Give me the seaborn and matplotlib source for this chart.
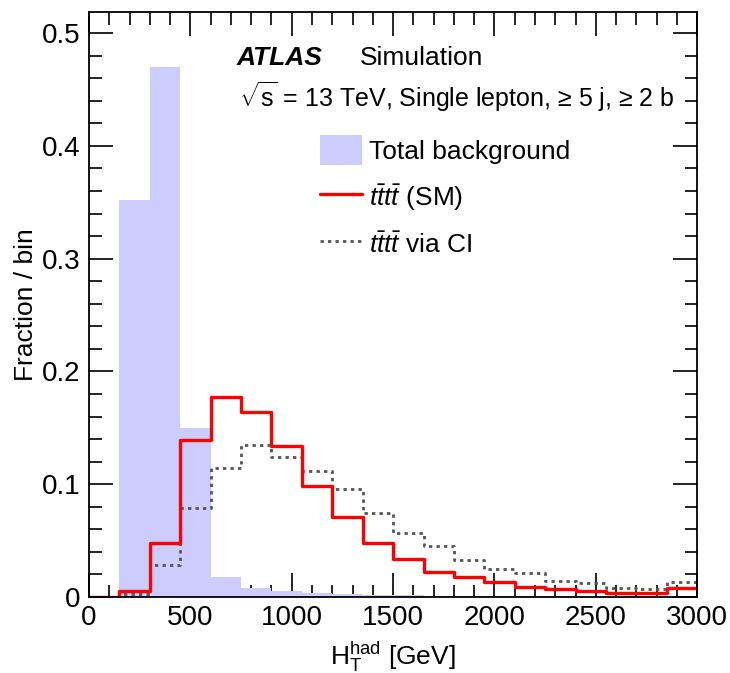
import numpy as np
import pandas as pd
import matplotlib
matplotlib.use("Agg")
import matplotlib.pyplot as plt
import seaborn as sns
from matplotlib.ticker import MultipleLocator
from matplotlib.patches import Patch
from matplotlib.lines import Line2D

# ---- data ----
bin_edges = [0, 150, 300, 450, 600, 750, 900, 1050, 1200, 1350, 1500, 1650,
             1800, 1950, 2100, 2250, 2400, 2550, 2700, 2850, 3000]
background = [0.0, 0.352, 0.470, 0.150, 0.018, 0.008, 0.0056, 0.0038, 0.0025,
              0.002, 0.0015, 0.0012, 0.0009, 0.0007, 0.0005, 0.0004, 0.0003,
              0.0002, 0.0002, 0.0002]
tttt_sm = [0.0, 0.005, 0.048, 0.139, 0.177, 0.164, 0.134, 0.098, 0.071, 0.048,
           0.034, 0.0225, 0.0175, 0.0136, 0.0092, 0.0071, 0.0053, 0.0038, 0.0033,
           0.0077]
tttt_ci = [0.0, 0.003, 0.028, 0.079, 0.114, 0.135, 0.124, 0.112, 0.096, 0.074,
           0.057, 0.0455, 0.0328, 0.0248, 0.021, 0.0145, 0.0121, 0.0077, 0.0068,
           0.0136]
legend_labels = ["Total background", r"$t\bar{t}t\bar{t}$ (SM)", r"$t\bar{t}t\bar{t}$ via CI"]

centers = [(a + b) / 2 for a, b in zip(bin_edges[:-1], bin_edges[1:])]
df = pd.DataFrame({"x": centers, "bkg": background, "sm": tttt_sm, "ci": tttt_ci})

sns.set_style("ticks")
plt.rcParams["font.family"] = ["Liberation Sans", "DejaVu Sans"]
plt.rcParams["mathtext.fontset"] = "custom"
plt.rcParams["mathtext.rm"] = "Liberation Sans"
plt.rcParams["mathtext.it"] = "Liberation Sans:italic"
plt.rcParams["mathtext.bf"] = "Liberation Sans:bold"
plt.rcParams["text.color"] = "black"
plt.rcParams["axes.labelcolor"] = "black"

fig = plt.figure(figsize=(7.3, 6.73), dpi=100)
ax = fig.add_axes([0.122, 0.113, 0.833, 0.869])

bkg_color = "#CCCCFF"
sns.histplot(data=df, x="x", weights="bkg", bins=bin_edges, element="step",
             fill=True, color=bkg_color, alpha=1.0, linewidth=0, ax=ax)
sns.histplot(data=df, x="x", weights="ci", bins=bin_edges, element="step",
             fill=False, color="#555555", linewidth=2.0, linestyle=(0, (1.2, 1.5)), ax=ax)
sns.histplot(data=df, x="x", weights="sm", bins=bin_edges, element="step",
             fill=False, color="#FF0000", linewidth=2.4, ax=ax)

ax.set_xlim(0, 3000)
ax.set_ylim(0, 0.5186)
ax.xaxis.set_major_locator(MultipleLocator(500))
ax.xaxis.set_minor_locator(MultipleLocator(100))
ax.yaxis.set_major_locator(MultipleLocator(0.1))
ax.yaxis.set_minor_locator(MultipleLocator(0.02))
ax.tick_params(which="both", direction="in", top=True, right=True, width=1.2, colors="black")
ax.tick_params(which="major", length=17, labelsize=20, pad=6)
ax.tick_params(which="minor", length=9)
ax.set_yticks([0, 0.1, 0.2, 0.3, 0.4, 0.5])
ax.set_yticklabels(["0", "0.1", "0.2", "0.3", "0.4", "0.5"])
for s in ax.spines.values():
    s.set_linewidth(1.3)
    s.set_color("black")

ax.set_xlabel(r"$\mathrm{H_T^{had}}$ [GeV]", fontsize=19, labelpad=6, color="black")
ax.set_ylabel("Fraction / bin", fontsize=19, labelpad=3, color="black")

ax.text(0.242, 0.921, "ATLAS", transform=ax.transAxes, fontsize=19, color="black",
        fontweight="bold", fontstyle="italic", va="center", ha="left")
ax.text(0.445, 0.921, "Simulation", transform=ax.transAxes, fontsize=19, color="black",
        va="center", ha="left")
ax.text(0.247, 0.856, r"$\sqrt{\mathrm{s}}$ = 13 TeV, Single lepton, ≥ 5 j, ≥ 2 b",
        transform=ax.transAxes, fontsize=18, va="center", ha="left", color="black")

handles = [Patch(facecolor=bkg_color, edgecolor="none"),
           Line2D([0], [0], color="#FF0000", linewidth=2.4),
           Line2D([0], [0], color="#555555", linewidth=2.0, linestyle=(0, (1.2, 1.5)))]
leg = ax.legend(handles, legend_labels, loc="upper left", bbox_to_anchor=(0.38, 0.79),
                frameon=False, fontsize=19, handlelength=1.6, handleheight=1.4,
                labelspacing=0.62, handletextpad=0.25, borderaxespad=0, borderpad=0)
for t in leg.get_texts():
    t.set_color("black")

fig.savefig("out.png", dpi=100)
